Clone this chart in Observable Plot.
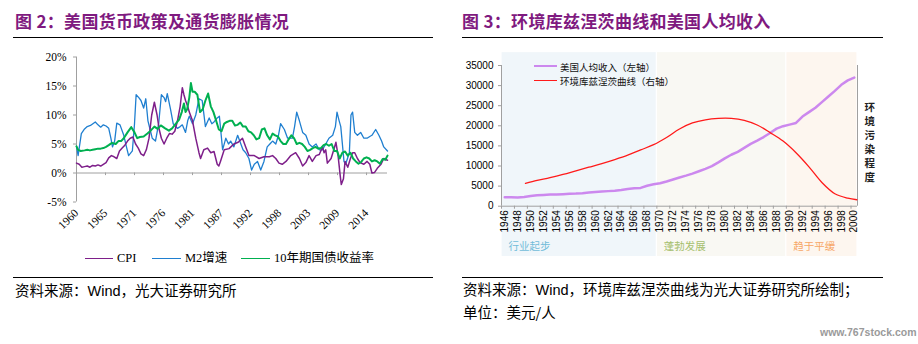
<!DOCTYPE html>
<html><head><meta charset="utf-8">
<script src="https://cdn.jsdelivr.net/npm/d3@7"></script>
<script src="https://cdn.jsdelivr.net/npm/@observablehq/plot@0.6"></script>
<style>
body{margin:0;background:#fff;}
#page{position:relative;width:918px;height:344px;overflow:hidden;font-family:"Noto Sans CJK SC",sans-serif;background:#fff;}
.abs{position:absolute;white-space:nowrap;}
.title{font-size:17px;font-weight:bold;color:#7f1a80;top:9px;line-height:24px;letter-spacing:0.3px;}
.hr{position:absolute;height:0;border-top:1.5px solid #000;}
.src{font-size:14.5px;color:#000;line-height:20px;}
.plot{position:absolute;}
</style></head><body><div id="page">
<div class="abs title" style="left:15px;">图 2：美国货币政策及通货膨胀情况</div>
<div class="abs title" style="left:462px;">图 3：环境库兹涅茨曲线和美国人均收入</div>
<div class="hr" style="left:13px;width:420px;top:37px;"></div>
<div class="hr" style="left:462px;width:421px;top:37px;"></div>
<div id="left" class="plot" style="left:0;top:40px;"></div>
<div id="right" class="plot" style="left:455px;top:40px;"></div>
<div id="legL"></div>
<div id="legR"></div>
<div class="hr" style="left:13px;width:420px;top:277px;"></div>
<div class="hr" style="left:462px;width:421px;top:277px;"></div>
<div class="abs src" style="left:15px;top:280px;">资料来源：<span style="font-family:'Liberation Sans',Arial">Wind</span>，光大证券研究所</div>
<div class="abs src" style="left:463px;top:279px;">资料来源：<span style="font-family:'Liberation Sans',Arial">Wind</span>，环境库兹涅茨曲线为光大证券研究所绘制；</div>
<div class="abs src" style="left:463px;top:302px;">单位：美元/人</div>
<div class="abs" style="left:820px;top:326px;font:bold 10.5px 'Liberation Sans',Arial;color:#9a9a9a;">www.767stock.com</div>
</div>
<script>
// ---------- Figure 2 data ----------
const yTicksL = [-5, 0, 5, 10, 15, 20];
const xTickLabels = ["1960","1965","1971","1976","1981","1987","1992","1998","2003","2009","2014"];
const seriesNames = ["CPI", "M2增速", "10年期国债收益率"];

const m2T = [1960.0,1960.3,1960.9,1961.5,1962.0,1962.6,1963.5,1964.0,1964.5,1965.0,1965.5,1966.0,1966.4,1966.7,1967.1,1967.5,1968.1,1968.8,1969.3,1969.7,1970.4,1970.8,1971.1,1971.6,1972.0,1972.5,1972.9,1973.3,1973.7,1974.1,1974.7,1975.3,1975.8,1976.3,1976.6,1976.9,1977.5,1978.0,1978.8,1979.3,1979.7,1980.3,1980.7,1981.0,1981.6,1982.2,1982.8,1983.4,1984.0,1984.7,1985.2,1985.6,1986.2,1986.6,1987.2,1987.8,1988.3,1988.7,1989.3,1990.0,1990.6,1991.0,1991.5,1992.1,1992.6,1993.1,1993.7,1994.3,1994.9,1995.5,1996.0,1996.5,1997.1,1997.6,1998.0,1998.7,1999.3,2000.2,2000.6,2001.0,2001.5,2002.1,2002.7,2003.3,2003.9,2004.6,2005.2,2005.8,2006.4,2007.0,2007.7,2008.2,2008.5,2008.9,2009.2,2009.8,2010.1,2010.8,2011.1,2011.4,2011.8,2012.3,2012.9,2013.5,2014.1,2014.6,2015.0,2015.7,2016.3,2016.8,2017.2,2017.9];
const m2V = [4.6,3.0,6.8,7.6,8.0,8.2,8.8,8.3,7.9,8.3,8.1,7.7,6.0,4.5,5.5,8.6,8.3,6.5,4.5,3.0,3.8,8.5,13.5,13.0,12.5,11.2,12.8,9.0,7.5,6.0,5.5,8.5,13.5,13.0,12.3,13.7,11.0,8.5,7.7,8.0,8.3,7.0,9.0,9.8,8.5,10.0,12.8,12.5,8.0,9.5,8.5,8.8,9.5,9.8,4.0,6.0,5.0,5.5,4.5,6.5,5.0,4.0,3.5,2.5,0.5,1.5,2.0,0.5,2.0,4.5,5.0,5.5,5.0,6.5,8.5,7.5,6.0,6.0,8.0,10.5,9.0,7.0,6.5,5.0,4.5,5.0,4.0,4.0,5.0,6.0,6.5,8.0,10.5,9.0,8.0,2.0,1.5,3.5,10.0,10.5,7.0,6.5,7.0,6.0,6.0,6.3,6.5,7.5,6.5,5.5,4.5,3.8];

const cpiT = [1960.0,1960.5,1961.0,1961.5,1962.0,1962.5,1963.0,1963.5,1964.0,1964.5,1965.0,1965.5,1966.0,1966.5,1967.0,1967.5,1968.0,1968.5,1969.0,1969.5,1970.0,1970.5,1971.0,1971.5,1972.0,1972.5,1973.0,1973.5,1974.0,1974.5,1975.0,1975.4,1975.8,1976.3,1976.8,1977.3,1977.8,1978.3,1978.8,1979.3,1979.7,1980.0,1980.3,1980.7,1981.0,1981.6,1982.2,1982.8,1983.1,1983.7,1984.4,1985.0,1985.6,1986.2,1986.5,1986.8,1987.5,1988.4,1989.3,1990.1,1990.9,1991.5,1992.1,1993.1,1994.0,1994.9,1995.9,1996.5,1997.1,1997.7,1998.3,1999.0,1999.9,2000.8,2001.5,2002.1,2002.7,2003.3,2003.9,2004.6,2005.2,2005.8,2006.1,2006.4,2006.7,2007.4,2008.0,2008.3,2008.7,2009.1,2009.3,2009.7,2010.0,2010.5,2011.0,2011.4,2011.8,2012.3,2012.8,2013.5,2014.1,2014.6,2015.0,2015.5,2016.0,2016.7,2017.2,2017.9];
const cpiV = [1.7,1.5,1.0,1.1,1.2,1.0,1.3,1.2,1.4,1.2,1.5,1.8,2.6,3.0,2.8,2.5,3.8,4.3,4.8,5.5,6.0,6.2,5.0,4.3,3.3,3.0,4.0,6.0,10.0,12.2,10.0,7.5,6.0,5.0,6.0,6.8,6.7,7.2,9.0,11.5,14.7,13.5,12.5,11.5,10.5,9.0,6.0,3.5,2.5,4.0,4.3,3.5,3.7,1.5,1.2,2.0,4.0,4.2,5.0,5.3,6.0,4.5,3.0,3.0,2.5,2.8,2.8,3.0,2.5,1.7,1.5,2.0,3.0,3.5,2.5,1.2,1.8,3.0,2.0,3.0,3.2,4.5,3.5,4.0,1.7,2.5,4.3,5.3,3.0,-0.5,-2.0,-1.0,2.0,1.0,2.5,3.5,3.5,2.5,1.8,1.5,2.0,1.5,0.0,0.1,0.8,1.5,2.5,2.2];

const bondT = [1960.0,1960.3,1960.8,1961.5,1962.0,1962.5,1963.0,1963.5,1964.0,1964.5,1965.0,1965.5,1966.0,1966.6,1967.3,1967.8,1968.3,1968.8,1969.5,1970.2,1970.8,1971.3,1971.8,1972.5,1973.2,1973.8,1974.5,1975.1,1975.7,1976.5,1977.2,1977.8,1978.5,1979.1,1979.6,1980.0,1980.3,1980.6,1981.0,1981.3,1981.6,1982.0,1982.5,1983.0,1983.5,1984.0,1984.5,1985.0,1985.5,1986.0,1986.5,1987.0,1987.5,1988.0,1988.5,1989.0,1989.5,1990.0,1990.5,1991.0,1991.5,1992.0,1992.5,1993.0,1993.5,1994.0,1994.5,1995.0,1995.5,1996.0,1996.5,1997.0,1997.5,1998.0,1998.5,1999.0,1999.5,2000.0,2000.5,2001.0,2001.5,2002.0,2002.5,2003.0,2003.5,2004.0,2004.5,2005.0,2005.5,2006.0,2006.5,2007.0,2007.5,2008.0,2008.5,2009.0,2009.5,2010.0,2010.5,2011.0,2011.5,2012.0,2012.5,2013.0,2013.5,2014.0,2014.5,2015.0,2015.5,2016.0,2016.5,2017.0,2017.5,2017.9];
const bondV = [4.6,4.0,3.8,3.9,4.0,3.9,4.0,4.1,4.2,4.2,4.3,4.5,4.8,5.2,5.0,5.5,5.5,6.0,7.0,7.9,7.0,6.0,6.2,6.3,6.8,7.3,8.0,7.6,8.2,7.7,7.3,7.7,8.5,9.2,10.5,12.0,10.5,11.0,13.0,15.5,14.0,14.0,13.5,10.5,11.0,12.5,13.7,11.5,10.5,9.0,7.5,7.2,8.5,8.8,9.0,9.0,8.2,8.3,8.7,8.0,8.0,7.2,7.0,6.5,5.8,6.0,7.5,7.7,6.5,5.8,6.8,6.5,6.3,5.5,5.0,5.0,5.8,6.5,6.0,5.0,5.2,5.0,4.5,3.8,4.0,4.3,4.5,4.2,4.3,4.8,5.0,4.7,5.0,3.8,3.8,2.5,3.5,3.7,3.0,3.5,2.5,2.0,1.6,1.9,2.5,2.7,2.5,2.0,2.2,2.0,1.6,2.4,2.3,3.0];

// ---------- Figure 3 data ----------
const years = d3.range(1946, 2001);
const incomeV = [2200,2200,2150,2300,2550,2700,2800,2900,2900,3000,3100,3150,3250,3400,3550,3650,3750,3850,4050,4300,4450,4550,5100,5450,5700,6150,6650,7150,7600,8100,8700,9300,9950,10900,11900,12800,13500,14500,15500,16300,17200,18200,19300,19900,20300,20700,22300,23400,24500,25900,27300,28700,30200,31300,32000];
const ekcT = [1949.2,1951,1953,1955,1957,1959,1961,1963,1965,1967,1969,1971,1973,1975,1977,1979,1981,1983,1985,1987,1989,1991,1993,1995,1997,1999,2000.4];
const ekcV = [5700,6400,7100,7900,8800,9700,10600,11600,12700,14000,15300,17100,19200,20700,21500,21850,21850,21350,20200,18300,16200,13300,9800,5900,3100,2000,1600];
const yTicksR = [0,5000,10000,15000,20000,25000,30000,35000];
const phaseNames = ["行业起步","蓬勃发展","趋于平缓"];
const phaseStart = [1946, 1970, 1990];
const phaseEnd = [1969, 1989, 2000];
const rightAxisTitle = "环境污染程度";
const legendR = ["美国人均收入（左轴）", "环境库兹涅茨曲线（右轴）"];

// ---------- styles ----------
const C = {cpi:"#7e1f8a", m2:"#1f7fd0", bond:"#00b050", income:"#cc88ee", ekc:"#ff1a1a", axis:"#a0a0a0"};
const phaseFill = ["#f0f6fa", "#f9f8f3", "#fdf6ef"];
const phaseTextColor = ["#72bcd9", "#a6bf6e", "#f7a665"];

// ---------- Figure 2 ----------
const tickStep = 5.4;
const xTickPos = xTickLabels.map((_, i) => 1960 + i * tickStep);
const tbl = (T, V) => T.map((t, i) => ({t, v: V[i]}));

const left = Plot.plot({
  width: 440, height: 200,
  marginLeft: 76, marginRight: 53, marginTop: 16.5, marginBottom: 38.5,
  style: {fontFamily: "'Liberation Serif', 'Times New Roman', serif", fontSize: "11.5px", background: "transparent", overflow: "visible"},
  x: {domain: [1960, 2017.9], label: null},
  y: {domain: [-5, 20], label: null},
  marks: [
    Plot.ruleX([1960], {stroke: C.axis}),
    Plot.ruleY([0], {stroke: C.axis}),
    Plot.ruleX(xTickPos, {y1: 0, y2: -0.45, stroke: C.axis}),
    Plot.axisY({ticks: yTicksL, tickFormat: d => d + "%", tickSize: 3, tickPadding: 7, stroke: C.axis, fill: "#000", label: null}),
    Plot.axisX({anchor: "bottom", ticks: xTickPos, tickFormat: d => xTickLabels[xTickPos.indexOf(d)], tickRotate: -45, tickSize: 0, tickPadding: 9, fill: "#000", label: null}),
    Plot.line(tbl(m2T, m2V), {x: "t", y: "v", stroke: C.m2, strokeWidth: 1.3}),
    Plot.line(tbl(cpiT, cpiV), {x: "t", y: "v", stroke: C.cpi, strokeWidth: 1.5}),
    Plot.line(tbl(bondT, bondV), {x: "t", y: "v", stroke: C.bond, strokeWidth: 2})
  ]
});
document.getElementById("left").appendChild(left);

// legend for Figure 2
const legL = document.getElementById("legL");
const legCols = [C.cpi, C.m2, C.bond];
const legX = [[85, 117], [152, 185], [241, 274]];
seriesNames.forEach((n, i) => {
  const ln = document.createElement("div");
  ln.style.cssText = `position:absolute;left:${legX[i][0]}px;top:258px;width:${legX[i][1]-legX[i][0]-4}px;border-top:1.5px solid ${legCols[i]};`;
  legL.appendChild(ln);
  const tx = document.createElement("div");
  tx.className = "abs";
  tx.textContent = n;
  tx.style.cssText += `left:${legX[i][1]}px;top:249px;line-height:18px;font-size:12.5px;font-family:'Liberation Serif','Noto Sans CJK SC',serif;color:#000;`;
  legL.appendChild(tx);
});

// ---------- Figure 3 ----------
const phases = phaseNames.map((name, i) => ({name, start: phaseStart[i], end: phaseEnd[i], i}));
const right = Plot.plot({
  width: 463, height: 220,
  marginLeft: 46, marginRight: 61, marginTop: 25, marginBottom: 54.3,
  style: {fontFamily: "'Liberation Sans', Arial, sans-serif", fontSize: "10px", background: "transparent", overflow: "visible"},
  x: {domain: [1945.5, 2000.5], label: null},
  y: {domain: [0, 35000], label: null},
  marks: [
    Plot.rect(phases, {x1: d => d.start - 0.5, x2: d => d.end + 0.5, y1: -12500, y2: 38200, fill: d => phaseFill[d.i], insetLeft: 0.6, insetRight: 0.6}),
    Plot.text(phases, {x: d => d.start - 0.5, y: -10000, text: "name", textAnchor: "start", dx: 7, fill: d => phaseTextColor[d.i], fontSize: 10.5, fontFamily: "'Noto Sans CJK SC', sans-serif"}),
    Plot.ruleX([1945.5, 2000.5], {stroke: C.axis}),
    Plot.ruleY([0], {stroke: C.axis}),
    Plot.ruleX(d3.range(1945.5, 2000, 2), {y1: 0, y2: -750, stroke: C.axis}),
    Plot.axisY({ticks: yTicksR, tickFormat: d => String(d), tickSize: 3, tickPadding: 5, stroke: C.axis, fill: "#000", label: null}),
    Plot.axisX({anchor: "bottom", ticks: years.filter(y => y % 2 === 0), tickFormat: d => String(d), tickRotate: -90, tickSize: 0, tickPadding: 4, fill: "#000", label: null}),
    Plot.line(years.map((y, i) => ({y, v: incomeV[i]})), {x: "y", y: "v", stroke: C.income, strokeWidth: 2.5}),
    Plot.line(tbl(ekcT, ekcV), {x: "t", y: "v", stroke: C.ekc, strokeWidth: 1.3, curve: "catmull-rom"})
  ]
});
document.getElementById("right").appendChild(right);

// legend for Figure 3 + right axis title
const legR = document.getElementById("legR");
[[C.income, 66.5, 2.5], [C.ekc, 81, 1.3]].forEach(([col, y, w], i) => {
  const ln = document.createElement("div");
  ln.style.cssText = `position:absolute;left:534px;top:${y - w/2}px;width:23px;border-top:${w}px solid ${col};`;
  legR.appendChild(ln);
  const tx = document.createElement("div");
  tx.className = "abs";
  tx.textContent = legendR[i];
  tx.style.cssText += `left:560px;top:${y - 8}px;line-height:16px;font-size:9.5px;color:#111;`;
  legR.appendChild(tx);
});
rightAxisTitle.split("").forEach((ch, i) => {
  const d = document.createElement("div");
  d.className = "abs";
  d.textContent = ch;
  d.style.cssText += `left:864.5px;top:${100.5 + i * 14}px;height:12px;line-height:12px;font-size:10.5px;font-weight:bold;color:#222;`;
  legR.appendChild(d);
});
</script>
</body></html>
